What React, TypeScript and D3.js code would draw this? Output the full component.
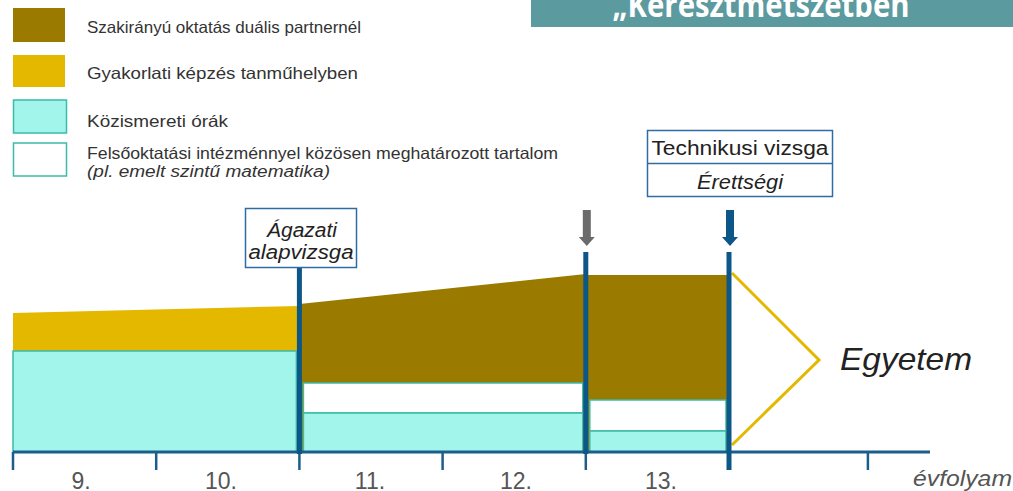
import React from "react";
import * as d3 from "d3";

// ---- data ----
const gradeLabels = ["9.", "10.", "11.", "12.", "13."];
const tickValues = [0, 1, 2, 3, 4, 5, 5.97];
const segStart = [0, 2, 4];
const segEnd = [2, 4, 5];
const kozismeretiTop = [101, 39, 21];
const felsoTop = [101, 69, 52];
const upperTopStart = [139, 148, 177];
const upperTopEnd = [146, 178, 177];
const upperLayer = ["gyakorlati", "szakiranyu", "szakiranyu"];
const milestones = [2, 4, 5];
const arrowGrades = [4, 5];

const legendItems = [
  { key: "szakiranyu", label: "Szakirányú oktatás duális partnernél" },
  { key: "gyakorlati", label: "Gyakorlati képzés tanműhelyben" },
  { key: "kozismereti", label: "Közismereti órák" },
  { key: "felso", label: "Felsőoktatási intézménnyel közösen meghatározott tartalom" },
];

const COLORS: Record<string, string> = {
  szakiranyu: "#9A7B00",
  gyakorlati: "#E5B800",
  kozismereti: "#A2F5EA",
  felso: "#FFFFFF",
};
const TEAL = "#3DBBA9";
const BLUE = "#0D5688";
const FONT = "'Liberation Sans', Arial, sans-serif";

export default function App() {
  const x = d3.scaleLinear().domain([0, 5]).range([13, 729]);
  const y = d3.scaleLinear().domain([0, 180]).range([452, 272]);
  const y0 = y(0);

  const area = d3
    .area<[number, number]>()
    .x((d) => x(d[0]))
    .y0(y0)
    .y1((d) => y(d[1]));

  const legendY = [8, 55, 100, 143];
  const legendH = [34, 32, 33, 33];
  const legendBase = [33, 79, 127, 159];
  const legendLen = [274, 271, 141, 471];
  const gradeX = [81, 221, 370, 516, 661];

  return (
    <svg
      width={1013}
      height={491}
      style={{ position: "absolute", left: 0, top: 0, background: "#fff" }}
      fontFamily={FONT}
    >
      {/* title */}
      <rect x={531} y={0} width={482} height={27} fill="#5B9A9E" />
      <text
        x={761}
        y={17}
        textAnchor="middle"
        fill="#fff"
        fontFamily="'Open Sans', sans-serif"
        fontWeight="bold"
        fontSize={34}
        textLength={297}
        lengthAdjust="spacingAndGlyphs"
      >
        „Keresztmetszetben
      </text>

      {/* legend */}
      {legendItems.map((it, i) => {
        const bordered = it.key === "kozismereti" || it.key === "felso";
        return (
          <g key={it.key}>
            <rect
              x={bordered ? 13.5 : 13}
              y={legendY[i]}
              width={bordered ? 53 : 52}
              height={legendH[i]}
              fill={COLORS[it.key]}
              stroke={bordered ? TEAL : COLORS[it.key]}
              strokeWidth={bordered ? 1.5 : 0}
            />
            <text
              x={87}
              y={legendBase[i]}
              fontSize={16.5}
              fill="#333"
              textLength={legendLen[i]}
              lengthAdjust="spacingAndGlyphs"
            >
              {it.label}
            </text>
          </g>
        );
      })}
      <text
        x={87}
        y={177}
        fontSize={16}
        fontStyle="italic"
        fill="#333"
        textLength={243}
        lengthAdjust="spacingAndGlyphs"
      >
        (pl. emelt szintű matematika)
      </text>

      {/* segments */}
      {segStart.map((s, i) => {
        const e = segEnd[i];
        const upper: [number, number][] = [
          [s, upperTopStart[i]],
          [e, upperTopEnd[i]],
        ];
        const xl = x(s) + (i === 0 ? 0 : 4);
        const xr = x(e) - 3;
        return (
          <g key={i}>
            <path d={area(upper) || ""} fill={COLORS[upperLayer[i]]} />
            {felsoTop[i] > kozismeretiTop[i] && (
              <rect
                x={xl}
                y={y(felsoTop[i])}
                width={xr - xl}
                height={y(kozismeretiTop[i]) - y(felsoTop[i])}
                fill={COLORS.felso}
                stroke={TEAL}
                strokeWidth={1.5}
              />
            )}
            <rect
              x={xl}
              y={y(kozismeretiTop[i])}
              width={xr - xl}
              height={y0 - y(kozismeretiTop[i])}
              fill={COLORS.kozismereti}
              stroke={TEAL}
              strokeWidth={1.5}
            />
          </g>
        );
      })}

      {/* chevron towards Egyetem */}
      <polyline
        points={`${x(5) + 3},${y(179)} ${x(5) + 90},${y(92)} ${x(5) + 3},${y(7)}`}
        fill="none"
        stroke="#E5B800"
        strokeWidth={3}
      />
      <text
        x={840}
        y={370}
        fontSize={32}
        fontStyle="italic"
        fill="#222"
        textLength={132}
        lengthAdjust="spacingAndGlyphs"
      >
        Egyetem
      </text>

      {/* axis */}
      <line x1={x(0)} x2={930} y1={y0} y2={y0} stroke="#1B5E8C" strokeWidth={3} />
      {tickValues.map((t) => (
        <line
          key={t}
          x1={x(t)}
          x2={x(t)}
          y1={y0}
          y2={470}
          stroke="#1B5E8C"
          strokeWidth={2.5}
        />
      ))}
      {gradeLabels.map((g, i) => (
        <text
          key={g}
          x={gradeX[i]}
          y={489}
          textAnchor="middle"
          fontSize={23}
          fill="#555"
        >
          {g}
        </text>
      ))}
      <text
        x={1012}
        y={486}
        textAnchor="end"
        fontSize={22}
        fontStyle="italic"
        fill="#555"
        textLength={99}
        lengthAdjust="spacingAndGlyphs"
      >
        évfolyam
      </text>

      {/* milestone lines */}
      {milestones.map((m, i) => (
        <line
          key={m}
          x1={x(m)}
          x2={x(m)}
          y1={i === 0 ? 268 : 252}
          y2={i === 2 ? 470 : 454}
          stroke={BLUE}
          strokeWidth={5}
        />
      ))}

      {/* arrows */}
      {arrowGrades.map((g, i) => {
        const cx = x(g) + 1;
        const col = i === 0 ? "#6B6B6B" : BLUE;
        const p = `M${cx - 4},210 L${cx + 4},210 L${cx + 4},237 L${cx + 8},237 L${cx},246 L${cx - 8},237 L${cx - 4},237 Z`;
        return <path key={g} d={p} fill={col} />;
      })}

      {/* Ágazati alapvizsga box */}
      <rect x={245.5} y={208.5} width={111} height={59} fill="#fff" stroke="#2E6DA4" strokeWidth={1.5} />
      <text
        x={302}
        y={237}
        textAnchor="middle"
        fontSize={20}
        fontStyle="italic"
        fill="#222"
        textLength={70}
        lengthAdjust="spacingAndGlyphs"
      >
        Ágazati
      </text>
      <text
        x={301}
        y={259}
        textAnchor="middle"
        fontSize={20}
        fontStyle="italic"
        fill="#222"
        textLength={105}
        lengthAdjust="spacingAndGlyphs"
      >
        alapvizsga
      </text>

      {/* Technikusi vizsga / Érettségi box */}
      <rect x={647.5} y={130.5} width={185} height={66} fill="#fff" stroke="#2E6DA4" strokeWidth={1.5} />
      <line x1={647.5} x2={832.5} y1={163.5} y2={163.5} stroke="#2E6DA4" strokeWidth={1.5} />
      <text
        x={740}
        y={155}
        textAnchor="middle"
        fontSize={20}
        fill="#222"
        textLength={177}
        lengthAdjust="spacingAndGlyphs"
      >
        Technikusi vizsga
      </text>
      <text
        x={740}
        y={189}
        textAnchor="middle"
        fontSize={20}
        fontStyle="italic"
        fill="#222"
        textLength={86}
        lengthAdjust="spacingAndGlyphs"
      >
        Érettségi
      </text>
    </svg>
  );
}
